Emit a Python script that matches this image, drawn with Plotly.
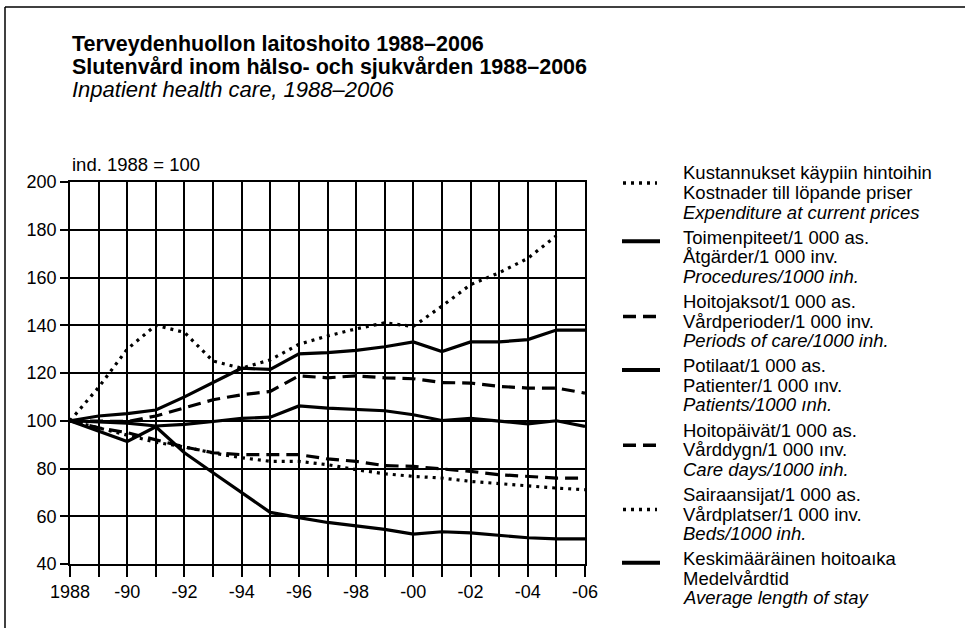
import plotly.graph_objects as go

years = list(range(1988, 2007))
expenditure = [100, 114, 130, 140, 137, 125, 122, 125.5, 132, 135.5, 138.5, 141, 139.5, 148, 157, 162, 168, 177.5, None]
procedures = [100, 102, 103, 104.5, 110, 116, 122, 121.5, 128, 128.5, 129.5, 131, 133, 129, 133, 133, 134, 138, 138]
periods = [100, 99.7, 99.7, 102, 105.4, 108.8, 110.9, 112.3, 118.8, 118, 118.8, 118, 117.6, 116, 115.8, 114.4, 113.7, 113.7, 111.6]
patients = [100, 99.5, 99, 97.8, 98.5, 99.7, 101, 101.5, 106.2, 105.3, 104.6, 104.2, 102.5, 100.1, 101, 99.7, 98.7, 100, 97.6]
care_days = [100, 97, 95, 92, 89, 86.6, 85.8, 85.8, 85.8, 84, 83, 81.2, 80.9, 79.8, 78.8, 77.4, 76.7, 76, 76]
beds = [100, 97, 94, 91, 89, 86.5, 84.5, 83, 83, 81.6, 79.5, 77.8, 76.7, 76, 74.6, 73.6, 72.8, 71.8, 71.1]
avg_stay = [100, 95.5, 91.3, 97.5, 86.6, 78.2, 69.8, 61.6, 59.4, 57.4, 56, 54.5, 52.5, 53.5, 53, 52, 51, 50.5, 50.5]

x_tick_vals = years
x_tick_text = ["1988", "", "-90", "", "-92", "", "-94", "", "-96", "", "-98", "", "-00", "", "-02", "", "-04", "", "-06"]
y_tick_vals = [40, 60, 80, 100, 120, 140, 160, 180, 200]

title_lines = ["Terveydenhuollon laitoshoito 1988–2006",
               "Slutenvård inom hälso- och sjukvården 1988–2006",
               "Inpatient health care, 1988–2006"]
y_label = "ind. 1988 = 100"

series = [
    (expenditure, "3px,5px", ["Kustannukset käypiin hintoihin", "Kostnader till löpande priser", "Expenditure at current prices"]),
    (procedures, "solid", ["Toimenpiteet/1 000 as.", "Åtgärder/1 000 inv.", "Procedures/1000 inh."]),
    (periods, "13px,7px", ["Hoitojaksot/1 000 as.", "Vårdperioder/1 000 inv.", "Periods of care/1000 inh."]),
    (patients, "solid", ["Potilaat/1 000 as.", "Patienter/1 000 ınv.", "Patients/1000 ınh."]),
    (care_days, "13px,7px", ["Hoitopäivät/1 000 as.", "Vårddygn/1 000 ınv.", "Care days/1000 inh."]),
    (beds, "3px,5px", ["Sairaansijat/1 000 as.", "Vårdplatser/1 000 inv.", "Beds/1000 inh."]),
    (avg_stay, "solid", ["Keskimääräinen hoitoaıka", "Medelvårdtid", "Average length of stay"]),
]

FONT = "Liberation Sans, Arial, sans-serif"
W, H = 965, 628
L, R, T, B = 70, 585, 182, 564

def px(x):
    return (x - L) / (R - L)

def py(y):
    return (B - y) / (B - T)

fig = go.Figure()
for vals, dash, names in series:
    fig.add_trace(go.Scatter(x=years, y=vals, mode="lines", name=names[2],
                             line=dict(color="black", width=3.2, dash=dash),
                             showlegend=False, connectgaps=False, hoverinfo="skip"))

shapes = []
annotations = []

# Titles
title_y = [44, 66.5, 89.5]
title_size = [21.5, 21.5, 22]
for i, txt in enumerate(title_lines):
    t = "<b>" + txt + "</b>" if i < 2 else "<i>" + txt + "</i>"
    annotations.append(dict(x=px(70), y=py(title_y[i]), xref="paper", yref="paper", text=t,
                            showarrow=False, xanchor="left", yanchor="middle",
                            font=dict(family=FONT, size=title_size[i], color="black")))
annotations.append(dict(x=px(70), y=py(164), xref="paper", yref="paper", text=y_label,
                        showarrow=False, xanchor="left", yanchor="middle",
                        font=dict(family=FONT, size=18.5, color="black")))

# Legend (drawn manually)
entry_step = 64.3
line_gap = 19.5
for k, (vals, dash, names) in enumerate(series):
    y0 = 173 + k * entry_step
    for j, txt in enumerate(names):
        t = "<i>" + txt + "</i>" if j == 2 else txt
        annotations.append(dict(x=px(681), y=py(y0 + j * line_gap), xref="paper", yref="paper",
                                text=t, showarrow=False, xanchor="left", yanchor="middle",
                                font=dict(family=FONT, size=18.5, color="black")))
    if dash == "solid":
        sy = y0 + 4
        shapes.append(dict(type="line", xref="paper", yref="paper", x0=px(622), x1=px(660),
                           y0=py(sy), y1=py(sy), line=dict(color="black", width=4)))
    else:
        sy = y0 + (10 if k == 0 else 15)
        end = 657 if dash.startswith("3") else 661
        shapes.append(dict(type="line", xref="paper", yref="paper", x0=px(623), x1=px(end),
                           y0=py(sy), y1=py(sy), line=dict(color="black", width=3.5, dash=dash)))

# Frame around figure
shapes.append(dict(type="line", xref="paper", yref="paper", x0=px(5), x1=px(5),
                   y0=py(7), y1=py(640), line=dict(color="black", width=1.5)))
shapes.append(dict(type="line", xref="paper", yref="paper", x0=px(5), x1=px(975),
                   y0=py(7), y1=py(7), line=dict(color="black", width=1.5)))

fig.update_layout(
    width=W, height=H,
    margin=dict(l=L, r=W - R, t=T, b=H - B),
    paper_bgcolor="white", plot_bgcolor="white",
    showlegend=False,
    shapes=shapes, annotations=annotations,
    font=dict(family=FONT, color="black"),
)
fig.update_xaxes(range=[1988, 2006], tickvals=x_tick_vals, ticktext=x_tick_text,
                 showgrid=True, gridcolor="black", gridwidth=1.5,
                 ticks="outside", ticklen=11, tickwidth=1.5, tickcolor="black",
                 showline=True, linecolor="black", linewidth=1.5, mirror=True,
                 tickfont=dict(family=FONT, size=18, color="black"), zeroline=False)
fig.update_yaxes(range=[40, 200], tickvals=y_tick_vals,
                 showgrid=True, gridcolor="black", gridwidth=1.5,
                 ticks="outside", ticklen=8, tickwidth=1.5, tickcolor="black",
                 showline=True, linecolor="black", linewidth=1.5, mirror=True,
                 tickfont=dict(family=FONT, size=18, color="black"), zeroline=False)

fig.write_html("out.html", config={"displayModeBar": False},
               post_script="document.body.style.margin='0px';")
